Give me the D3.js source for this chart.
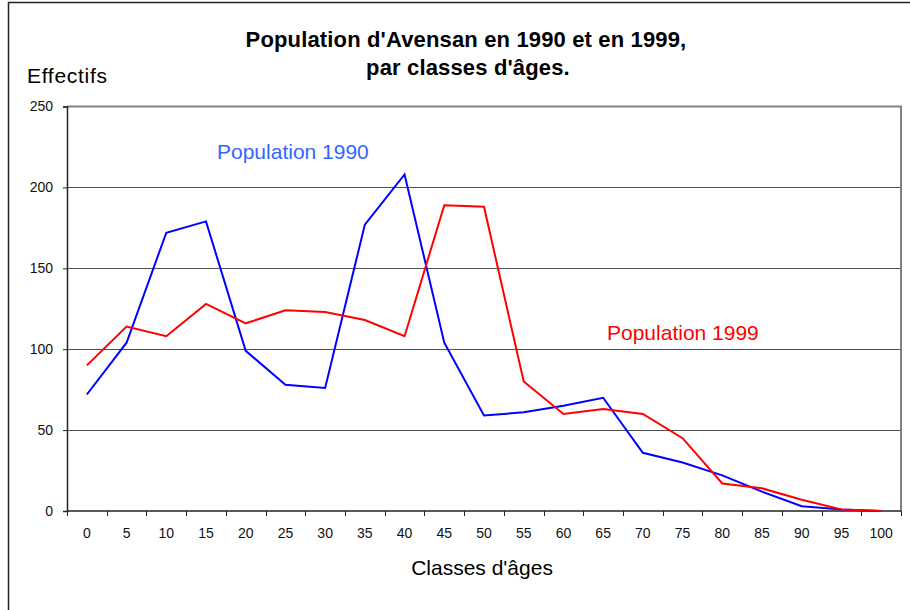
<!DOCTYPE html>
<html>
<head>
<meta charset="utf-8">
<script src="https://cdn.jsdelivr.net/npm/d3@7"></script>
<style>
  body { margin: 0; background: #fff; }
  text { font-family: Arial, "Liberation Sans", sans-serif; }
</style>
</head>
<body>
<svg id="chart" width="910" height="610"></svg>
<script>
// age classes (x axis)
const AGES = [0, 5, 10, 15, 20, 25, 30, 35, 40, 45, 50, 55, 60, 65, 70, 75, 80, 85, 90, 95, 100];
// population counts
const POP_1990 = [72, 104, 172, 179, 99, 78, 76, 177, 208, 104, 59, 61, 65, 70, 36, 30, 22, 12, 3, 1, 0];
const POP_1999 = [90, 114, 108, 128, 116, 124, 123, 118, 108, 189, 188, 80, 60, 63, 60, 45, 17, 14, 7, 1, 0];
const Y_TICKS = [0, 50, 100, 150, 200, 250];

const svg = d3.select('#chart');

// outer frame of the chart
svg.append('rect')
  .attr('x', 8.5).attr('y', 2.5)
  .attr('width', 930).attr('height', 640)
  .attr('fill', 'none')
  .attr('stroke', '#222')
  .attr('stroke-width', 1.5);

const x = d3.scaleBand()
  .domain(AGES)
  .range([67, 901])
  .padding(0);

const y = d3.scaleLinear()
  .domain([0, 250])
  .range([511, 106.5]);

// gridlines
svg.append('g')
  .selectAll('line')
  .data(Y_TICKS.filter(d => d > 0 && d < 250))
  .join('line')
  .attr('x1', 67).attr('x2', 901)
  .attr('y1', d => Math.round(y(d)) + 0.5)
  .attr('y2', d => Math.round(y(d)) + 0.5)
  .attr('stroke', '#505050')
  .attr('stroke-width', 1);

// plot area border (top / right)
svg.append('path')
  .attr('d', `M67,${y(250)}H901V511`)
  .attr('fill', 'none')
  .attr('stroke', '#808080')
  .attr('stroke-width', 2);

// y axis
const yAxis = svg.append('g')
  .attr('transform', 'translate(67,0)')
  .call(d3.axisLeft(y).tickValues(Y_TICKS).tickSize(4).tickPadding(10));
yAxis.select('.domain').attr('stroke', '#222').attr('stroke-width', 1.5);
yAxis.selectAll('.tick line').attr('stroke', '#222');
yAxis.selectAll('.tick text')
  .attr('font-size', 14)
  .attr('fill', '#111')
  .attr('font-family', 'Arial, "Liberation Sans", sans-serif');

// x axis: tick marks on band boundaries, labels at band centres
const xAxisG = svg.append('g').attr('transform', 'translate(0,511)');
xAxisG.append('line')
  .attr('x1', 67).attr('x2', 901)
  .attr('stroke', '#222').attr('stroke-width', 1.5);
const boundaries = AGES.map(d => x(d)).concat([x(AGES[AGES.length - 1]) + x.bandwidth()]);
xAxisG.selectAll('line.tk')
  .data(boundaries)
  .join('line')
  .attr('class', 'tk')
  .attr('x1', d => Math.round(d) + 0.5).attr('x2', d => Math.round(d) + 0.5)
  .attr('y1', 0).attr('y2', 5)
  .attr('stroke', '#222');
xAxisG.selectAll('text')
  .data(AGES)
  .join('text')
  .attr('x', d => x(d) + x.bandwidth() / 2)
  .attr('y', 27)
  .attr('text-anchor', 'middle')
  .attr('font-size', 14)
  .attr('fill', '#111')
  .text(d => d);

// series lines
const line = d3.line()
  .x((d, i) => x(AGES[i]) + x.bandwidth() / 2)
  .y(d => y(d));

svg.append('path')
  .datum(POP_1990)
  .attr('d', line)
  .attr('fill', 'none')
  .attr('stroke', '#0000ff')
  .attr('stroke-width', 2);

svg.append('path')
  .datum(POP_1999)
  .attr('d', line)
  .attr('fill', 'none')
  .attr('stroke', '#ff0000')
  .attr('stroke-width', 2);

// series labels
svg.append('text')
  .attr('x', 217).attr('y', 159)
  .attr('font-size', 21)
  .attr('fill', '#3366ff')
  .text('Population 1990');

svg.append('text')
  .attr('x', 607).attr('y', 340)
  .attr('font-size', 21)
  .attr('fill', '#ff0000')
  .text('Population 1999');

// title
const title = svg.append('text')
  .attr('text-anchor', 'middle')
  .attr('font-size', 22)
  .attr('font-weight', 'bold')
  .attr('letter-spacing', 0.15)
  .attr('fill', '#000');
title.append('tspan').attr('x', 466).attr('y', 47).text("Population d'Avensan en 1990 et en 1999,");
title.append('tspan').attr('x', 468).attr('y', 75).text("par classes d'âges.");

// axis titles
svg.append('text')
  .attr('x', 27).attr('y', 83)
  .attr('font-size', 21)
  .attr('letter-spacing', 0.7)
  .attr('fill', '#000')
  .text('Effectifs');

svg.append('text')
  .attr('x', 482).attr('y', 575)
  .attr('text-anchor', 'middle')
  .attr('font-size', 21)
  .attr('fill', '#000')
  .text("Classes d'âges");
</script>
</body>
</html>
